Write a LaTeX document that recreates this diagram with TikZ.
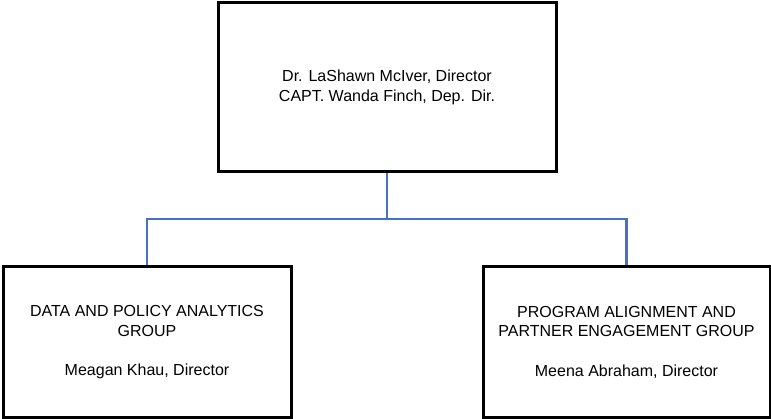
\documentclass[tikz,border=0pt]{standalone}
\usepackage{fontspec}
\setmainfont{Liberation Sans}
\begin{document}
\begin{tikzpicture}[x=1pt,y=-1pt,
  box/.style={draw=black,line width=3pt,fill=white,align=center,inner sep=0pt,
    font=\fontsize{16}{19.7}\selectfont},
  conn/.style={draw={rgb,255:red,68;green,114;blue,196},line width=2.6pt}]
\useasboundingbox (0,0) rectangle (771,419);
\node[box,minimum width=338pt,minimum height=169pt] (top) at (387,87.5)
  {Dr. LaShawn McIver, Director\\CAPT. Wanda Finch, Dep. Dir.};
\node[box,minimum width=288pt,minimum height=150pt] (left) at (147,342)
  {DATA AND POLICY ANALYTICS\\GROUP\\[19.7pt]Meagan Khau, Director};
\node[box,minimum width=287pt,minimum height=150pt] (right) at (626.5,342)
  {PROGRAM ALIGNMENT AND\\PARTNER ENGAGEMENT GROUP\\[19.7pt]Meena Abraham, Director};
\coordinate (bus) at (387,219);
\draw[conn] (top.south) -- (bus) -| (left.north);
\draw[conn] (bus) -| (right.north);
\end{tikzpicture}
\end{document}
